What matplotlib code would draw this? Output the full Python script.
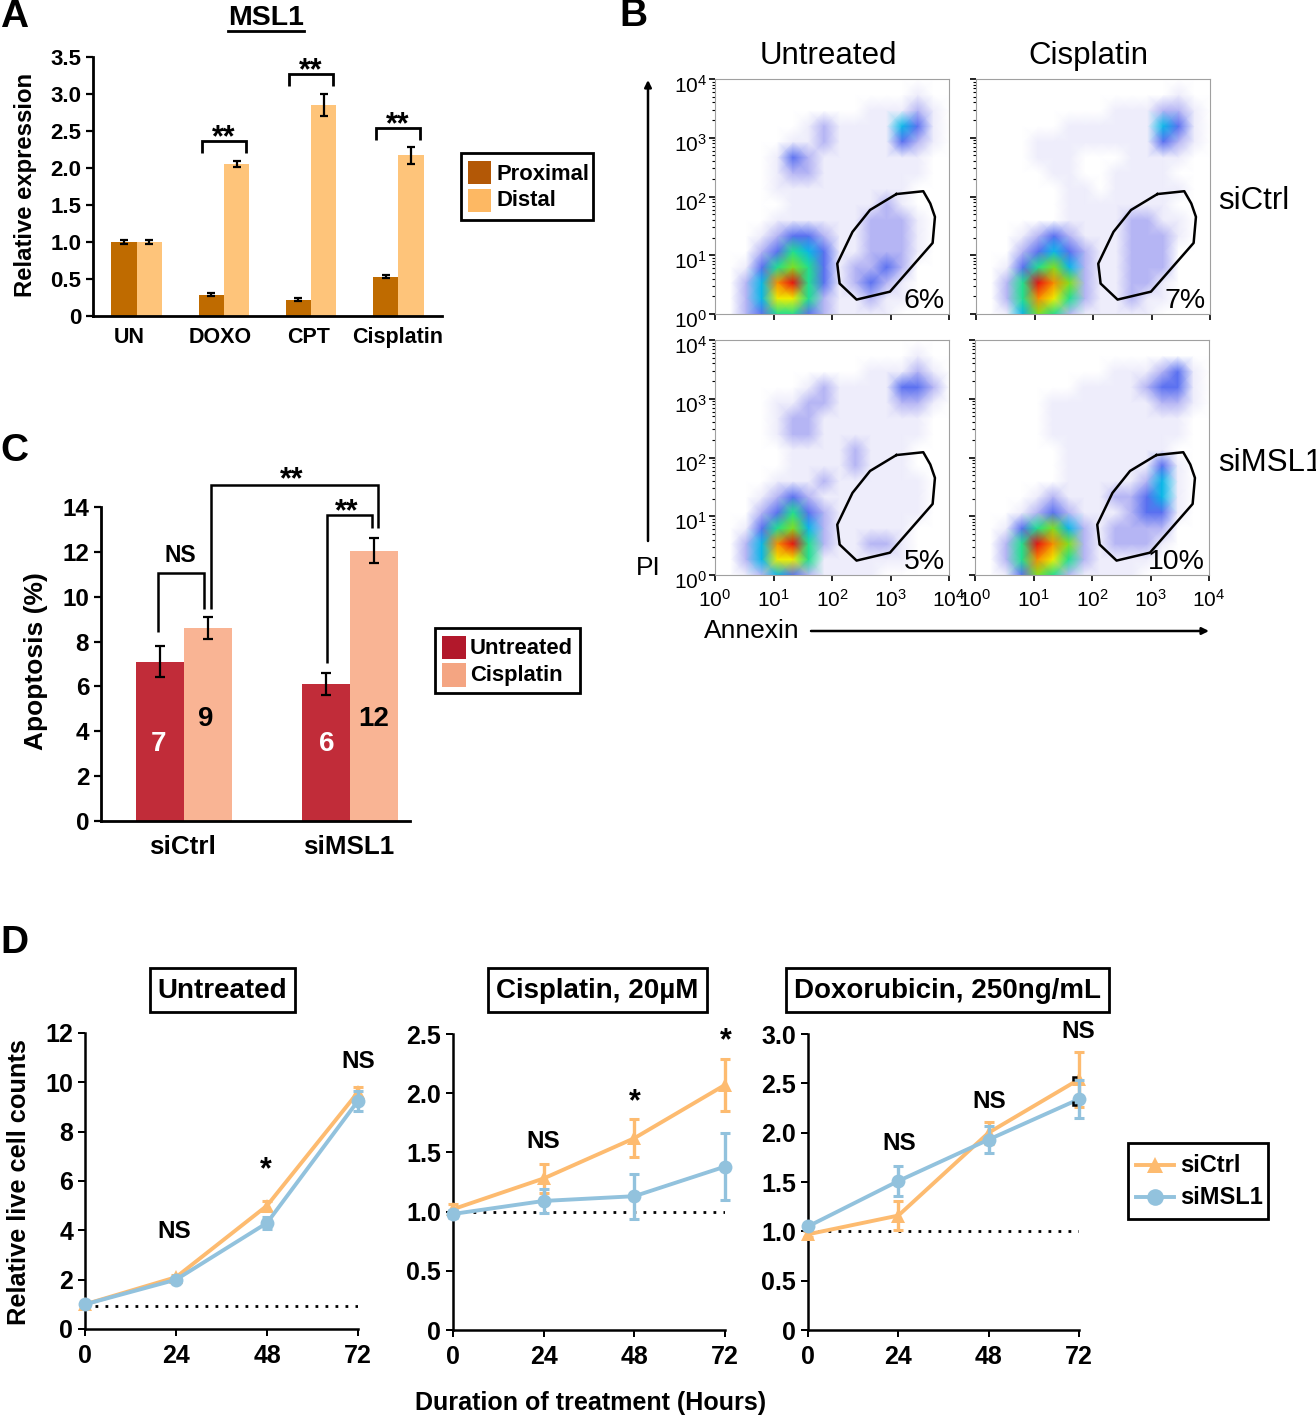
import matplotlib
matplotlib.use("Agg")
import matplotlib.pyplot as plt
import numpy as np
from matplotlib.colors import LinearSegmentedColormap
from matplotlib.patches import Rectangle
from matplotlib.transforms import ScaledTranslation

plt.rcParams["font.family"] = ["Liberation Sans", "DejaVu Sans"]
plt.rcParams["mathtext.default"] = "regular"

W, H = 1316, 1417

# Panel A
a_groups = ["UN", "DOXO", "CPT", "Cisplatin"]
a_proximal = [1.0, 0.29, 0.22, 0.53]
a_proximal_err = [0.03, 0.02, 0.02, 0.02]
a_distal = [1.0, 2.05, 2.85, 2.17]
a_distal_err = [0.03, 0.04, 0.15, 0.11]

# Panel C
c_groups = ["siCtrl", "siMSL1"]
c_untreated = [7.1, 6.1]
c_untreated_err = [0.7, 0.5]
c_cisplatin = [8.6, 12.05]
c_cisplatin_err = [0.5, 0.55]

# Panel D
hours = [0, 24, 48, 72]
d_titles = ["Untreated", "Cisplatin, 20µM", "Doxorubicin, 250ng/mL"]
d1_ctrl = [1.0, 2.1, 5.0, 9.6]
d1_ctrl_err = [0.05, 0.1, 0.2, 0.2]
d1_msl1 = [1.0, 2.0, 4.3, 9.25]
d1_msl1_err = [0.05, 0.1, 0.25, 0.4]
d2_ctrl = [1.02, 1.28, 1.62, 2.07]
d2_ctrl_err = [0.04, 0.12, 0.16, 0.22]
d2_msl1 = [0.98, 1.09, 1.13, 1.38]
d2_msl1_err = [0.03, 0.1, 0.19, 0.28]
d3_ctrl = [0.97, 1.16, 2.0, 2.54]
d3_ctrl_err = [0.03, 0.15, 0.11, 0.28]
d3_msl1 = [1.05, 1.51, 1.93, 2.34]
d3_msl1_err = [0.03, 0.15, 0.14, 0.19]

# Panel B: cell density, on a 0-9 colour scale.
# Rows run from PI 10^4 (top) to 10^0, columns from Annexin 10^0 to 10^4.
b_untreated_ctrl = [
    "0000000000000000",
    "0000000000000100",
    "0000000000111210",
    "0000001211114310",
    "0000011211113210",
    "0000132111111100",
    "0000122111111100",
    "0000111111111000",
    "0000011111121000",
    "0000111111222100",
    "0001233211222100",
    "0002354311222100",
    "0013565312232000",
    "0024895312321000",
    "0024775211211000",
    "0023553211110000",
]
b_cisplatin_ctrl = [
    "0000000000000000",
    "0000000000000100",
    "0000000001112210",
    "0000001111114310",
    "0000111111113210",
    "0000111000111100",
    "0000011001111000",
    "0000001101111100",
    "0000001111111000",
    "0000001111221100",
    "0001232111222100",
    "0002343211222000",
    "0013564211222000",
    "0025986211221000",
    "0025875211211000",
    "0014652111110000",
]
b_untreated_msl1 = [
    "0000000000000000",
    "0000000000000100",
    "0000000000111210",
    "0000001211113320",
    "0000112211112210",
    "0000122111111100",
    "0000122111111100",
    "0000011112111000",
    "0000011112111000",
    "0000111211111100",
    "0001232111111100",
    "0002353211111100",
    "0013564211111000",
    "0024895211221000",
    "0024775111111000",
    "0012432111100000",
]
b_cisplatin_msl1 = [
    "0000000000000000",
    "0000000000000000",
    "0000000001112310",
    "0000000111123310",
    "0000011111112210",
    "0000011111111100",
    "0000011111111100",
    "0000001111111000",
    "0000001111113100",
    "0000001111124100",
    "0000121112234100",
    "0001232111233100",
    "0013564212222000",
    "0025986212221000",
    "0025875211110000",
    "0013652111100000",
]
b_percent = ["6%", "7%", "5%", "10%"]
gate_annexin = [1260, 3630, 4790, 5750, 5250, 980, 263, 135, 123, 224, 447, 1260]
gate_pi = [110, 123, 76, 45, 16.2, 2.4, 1.76, 3.3, 7.2, 25, 59, 110]

PROXIMAL, DISTAL = "#BF6B00", "#FEC47A"
RED, SALMON = "#C12C39", "#F9B494"
ORANGE, BLUE = "#FDBB70", "#92C2DD"

flow_cmap = LinearSegmentedColormap.from_list(
    "flow",
    ["#FFFFFF", "#EEEDFB", "#B4B4F4", "#5A70F0", "#08B8E8",
     "#20E090", "#80E020", "#F0F000", "#F89000", "#E81010"],
)

fig = plt.figure(figsize=(W / 100, H / 100), dpi=100)


def add_ax(left, top, right, bottom):
    return fig.add_axes([left / W, 1 - bottom / H, (right - left) / W, (bottom - top) / H])


# overlay in pixel coordinates for labels and brackets
ov = fig.add_axes([0, 0, 1, 1], zorder=10)
ov.set_xlim(0, W)
ov.set_ylim(H, 0)
ov.axis("off")
ov.patch.set_alpha(0)


def txt(x, y, s, size=15, weight="bold", ha="center", color="black", **kw):
    ov.text(x, y + 2, s, fontsize=size, fontweight=weight, ha=ha, va="center", color=color,
            clip_on=False, **kw)


def bracket(xs, ys, lw=2.0):
    ov.plot(xs, ys, color="black", lw=lw, solid_joinstyle="miter", solid_capstyle="butt")


def box(x0, y0, x1, y1, lw=2.0):
    ov.add_patch(Rectangle((x0, y0), x1 - x0, y1 - y0, fill=False, ec="black", lw=lw))


def style_axes(ax, width=2.0, size=15, length=5):
    ax.spines[["top", "right"]].set_visible(False)
    ax.spines[["left", "bottom"]].set_linewidth(width)
    ax.tick_params(width=width * 0.8, length=length, labelsize=size)
    for label in ax.get_xticklabels() + ax.get_yticklabels():
        label.set_fontweight("bold")


# ---------- A ----------
ax = add_ax(93, 57, 442, 316)
x = np.arange(len(a_groups))
ax.bar(x - 0.145, a_proximal, 0.29, color=PROXIMAL, yerr=a_proximal_err,
       error_kw=dict(ecolor="black", elinewidth=1.6, capsize=3, capthick=1.6))
ax.bar(x + 0.145, a_distal, 0.29, color=DISTAL, yerr=a_distal_err,
       error_kw=dict(ecolor="black", elinewidth=1.6, capsize=3, capthick=1.6))
ax.set_xlim(-0.5, 3.5)
ax.set_ylim(0, 3.5)
ax.set_xticks(x + np.array([-0.09, -0.04, -0.03, -0.01]), a_groups)
ax.set_yticks(np.arange(0, 3.6, 0.5), ["0", "0.5", "1.0", "1.5", "2.0", "2.5", "3.0", "3.5"])
style_axes(ax, size=16)
ax.tick_params(axis="x", length=0, pad=8, labelsize=15.5)

txt(26, 183, "Relative expression", size=17.2, rotation=90)
txt(266, 16, "MSL1", size=20.5)
ov.plot([228, 304], [31, 31], color="black", lw=2)
for x0, top, star in [(202, 141, 133), (289, 74, 66), (376, 128, 120)]:
    bracket([x0, x0, x0 + 44, x0 + 44], [top + 12, top, top, top + 12])
    txt(x0 + 22, star + 3, "**", size=22)

box(461, 153, 593, 220)
ov.add_patch(Rectangle((468, 161), 23, 23, color="#B35806", lw=0))
ov.add_patch(Rectangle((468, 189), 23, 23, color="#FDB863", lw=0))
txt(496, 172, "Proximal", size=15.8, ha="left")
txt(496, 199, "Distal", size=15.8, ha="left")

# ---------- B ----------
flow_panels = [
    (715, 79, 949, 314, b_untreated_ctrl),
    (976, 79, 1210, 314, b_cisplatin_ctrl),
    (715, 340, 949, 575, b_untreated_msl1),
    (975, 340, 1209, 575, b_cisplatin_msl1),
]
decades = [1, 10, 100, 1000, 10000]
powers = ["$10^{0}$", "$10^{1}$", "$10^{2}$", "$10^{3}$", "$10^{4}$"]
label_drop = ScaledTranslation(0, -5 / 100, fig.dpi_scale_trans)
for i, (l, t, r, b, rows) in enumerate(flow_panels):
    ax = add_ax(l, t, r, b)
    density = np.array([[int(c) for c in row] for row in rows], dtype=float)[::-1]
    nodes = np.logspace(0, 4, density.shape[0])
    ax.pcolormesh(nodes, nodes, density, cmap=flow_cmap, vmin=0, vmax=9, shading="gouraud")
    ax.plot(gate_annexin, gate_pi, color="black", lw=1.8)
    ax.set_xscale("log")
    ax.set_yscale("log")
    ax.set_xlim(1, 10000)
    ax.set_ylim(1, 10000)
    ax.set_xticks(decades, powers if i >= 2 else [""] * 5)
    ax.set_yticks(decades, powers if i % 2 == 0 else [""] * 5)
    ax.tick_params(which="major", length=4, width=1.2, labelsize=15)
    ax.tick_params(axis="x", which="major", pad=6)
    ax.tick_params(axis="y", which="major", pad=2)
    ax.tick_params(which="minor", length=2.5, width=0.8, labelbottom=False, labelleft=False)
    ax.spines[["top", "right", "left", "bottom"]].set_color("#A0A0A0")
    for label in ax.get_yticklabels():
        label.set_transform(label.get_transform() + label_drop)
    txt(r - 4, b - 15, b_percent[i], size=20.5, weight="normal", ha="right")

txt(828, 54, "Untreated", size=22.5, weight="normal")
txt(1088, 54, "Cisplatin", size=22.5, weight="normal")
txt(1218, 199, "siCtrl", size=22.5, weight="normal", ha="left")
txt(1218, 461, "siMSL1", size=22.5, weight="normal", ha="left")
txt(648, 566, "PI", size=19, weight="normal")
txt(752, 629, "Annexin", size=19, weight="normal")
ov.annotate("", xy=(648, 80), xytext=(648, 541),
            arrowprops=dict(arrowstyle="-|>", color="black", lw=1.8, shrinkA=0, shrinkB=0))
ov.annotate("", xy=(1209, 631), xytext=(811, 631),
            arrowprops=dict(arrowstyle="-|>", color="black", lw=1.8, shrinkA=0, shrinkB=0))

# ---------- C ----------
ax = add_ax(101, 507, 410, 821)
x = np.arange(len(c_groups))
ax.bar(x - 0.145, c_untreated, 0.29, color=RED, yerr=c_untreated_err,
       error_kw=dict(ecolor="black", elinewidth=1.6, capsize=3.5, capthick=1.6))
ax.bar(x + 0.145, c_cisplatin, 0.29, color=SALMON, yerr=c_cisplatin_err,
       error_kw=dict(ecolor="black", elinewidth=1.6, capsize=3.5, capthick=1.6))
ax.set_xlim(-0.5, 1.36)
ax.set_ylim(0, 14)
ax.set_xticks(x - 0.012, c_groups)
ax.set_yticks(np.arange(0, 15, 2))
style_axes(ax, size=17.5)
ax.tick_params(axis="x", length=0, pad=10, labelsize=18.7)

txt(36, 659, "Apoptosis (%)", size=19, rotation=90)
bracket([158, 158, 204, 204], [632, 573, 573, 609], lw=1.8)
bracket([211, 211, 378, 378], [609, 485, 485, 528], lw=1.8)
bracket([327, 327, 372, 372], [663, 515, 515, 528], lw=1.8)
txt(180, 553, "NS", size=16.5)
txt(292, 478, "**", size=22)
txt(347, 510, "**", size=22)
txt(159, 742, "7", size=20, color="white")
txt(206, 717, "9", size=20)
txt(327, 742, "6", size=20, color="white")
txt(374, 717, "12", size=20)

box(435, 628, 580, 693)
ov.add_patch(Rectangle((442, 636), 24, 23, color="#B2182B", lw=0))
ov.add_patch(Rectangle((442, 663), 24, 24, color="#F4A582", lw=0))
txt(470, 646, "Untreated", size=15.8, ha="left")
txt(470, 673, "Cisplatin", size=15.8, ha="left")

# ---------- D ----------
d_axes = [
    (85, 1033, 358, 1329, 12, np.arange(0, 13, 2), None, d1_ctrl, d1_ctrl_err, d1_msl1, d1_msl1_err, 0.95),
    (453, 1034, 725, 1330, 2.5, np.arange(0, 2.6, 0.5), ["0", "0.5", "1.0", "1.5", "2.0", "2.5"],
     d2_ctrl, d2_ctrl_err, d2_msl1, d2_msl1_err, 1.0),
    (808, 1034, 1079, 1330, 3.0, np.arange(0, 3.1, 0.5), ["0", "0.5", "1.0", "1.5", "2.0", "2.5", "3.0"],
     d3_ctrl, d3_ctrl_err, d3_msl1, d3_msl1_err, 1.0),
]
for l, t, r, b, ymax, yt, ytl, ctrl, ctrl_err, msl1, msl1_err, base in d_axes:
    ax = add_ax(l, t, r, b)
    ax.plot(hours, [base] * len(hours), color="black", lw=2, ls=(0, (1, 2.6)), zorder=1)
    ax.errorbar(hours, ctrl, yerr=ctrl_err, fmt="none", ecolor=ORANGE, elinewidth=2.4,
                capsize=3.5, capthick=2.2, clip_on=False, zorder=3)
    ax.plot(hours, ctrl, color=ORANGE, lw=2.8, marker="^", ms=10, mew=0, clip_on=False, zorder=3)
    ax.errorbar(hours, msl1, yerr=msl1_err, fmt="none", ecolor=BLUE, elinewidth=2.4,
                capsize=3.5, capthick=2.2, clip_on=False, zorder=4)
    ax.plot(hours, msl1, color=BLUE, lw=2.8, marker="o", ms=10, mew=0, clip_on=False, zorder=4)
    ax.set_xlim(0, 72)
    ax.set_ylim(0, ymax)
    ax.set_xticks(hours)
    if ytl is None:
        ax.set_yticks(yt)
    else:
        ax.set_yticks(yt, ytl)
    style_axes(ax, width=1.8, size=18, length=5)
    ax.tick_params(axis="x", pad=6)

txt(19, 1180, "Relative live cell counts", size=18.3, rotation=90)
txt(591, 1401, "Duration of treatment (Hours)", size=18.1)
for x0, x1, title in zip([150, 488, 786], [295, 707, 1109], d_titles):
    box(x0, 968, x1, 1012)
    txt((x0 + x1) / 2, 989, title, size=20)

for px, py, s in [(174, 1230, "NS"), (266, 1168, "*"), (358, 1060, "NS"),
                  (543, 1140, "NS"), (635, 1100, "*"), (726, 1039, "*"),
                  (899, 1142, "NS"), (989, 1099, "NS"), (1078, 1030, "NS")]:
    txt(px, py, s, size=22 if s == "*" else 17.5)

# stray black caps behind the last Doxorubicin points
bracket([1077, 1073, 1073], [1077, 1077, 1081], lw=1.8)
bracket([1073, 1073, 1077], [1101, 1105, 1105], lw=1.8)

box(1128, 1143, 1268, 1219)
ov.plot([1136, 1174], [1165, 1165], color=ORANGE, lw=2.8)
ov.plot([1155], [1165], color=ORANGE, marker="^", ms=12, mew=0)
ov.plot([1136, 1174], [1197, 1197], color=BLUE, lw=2.8)
ov.plot([1155], [1197], color=BLUE, marker="o", ms=12, mew=0)
txt(1180, 1163, "siCtrl", size=17, ha="left")
txt(1180, 1195, "siMSL1", size=17, ha="left")

# panel letters
txt(0, 15, "A", size=28, ha="left")
txt(619, 14, "B", size=28, ha="left")
txt(0, 449, "C", size=28, ha="left")
txt(0, 941, "D", size=28, ha="left")

fig.savefig("out.png", dpi=100)
